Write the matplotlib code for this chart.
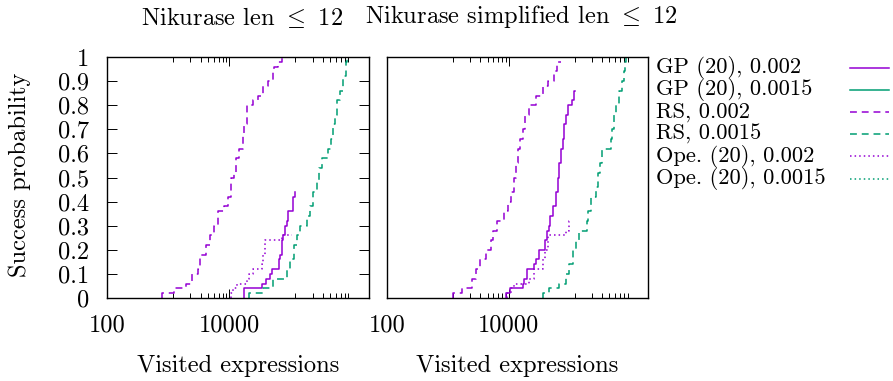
import numpy as np
import matplotlib
matplotlib.use("Agg")
import matplotlib.pyplot as plt
from matplotlib.lines import Line2D
from matplotlib.ticker import FixedLocator, NullFormatter

plt.rcParams['font.family'] = 'cmr10'
plt.rcParams['mathtext.fontset'] = 'cm'
plt.rcParams['font.size'] = 17.6

PURPLE = '#9400d3'
GREEN = '#009e73'

# visited expressions at which the success probability steps up
# -- Nikurase len <= 12
gp_002_a_x = [17600, 34700, 39300, 46300, 49300, 65000, 67500, 71800, 74600, 81500,
              86700, 92300, 108700, 111400, 118600]
gp_002_a_p = [0.04, 0.06, 0.08, 0.10, 0.12, 0.16, 0.18, 0.24, 0.26, 0.30,
              0.32, 0.36, 0.38, 0.42, 0.44]
gp_0015_a_x = []
gp_0015_a_p = []
rs_002_a_x = [800, 1250, 1960, 2430, 3040, 3320, 4160, 4830, 5690, 6620, 8200, 9640,
              10500, 12100, 12900, 14200, 16600, 17600, 19200, 24700, 29800, 36000,
              43500, 51200, 53800, 63400, 72800]
rs_002_a_p = [0.02, 0.04, 0.06, 0.10, 0.12, 0.18, 0.22, 0.26, 0.30, 0.36, 0.38, 0.42,
              0.50, 0.52, 0.58, 0.62, 0.68, 0.72, 0.80, 0.82, 0.84, 0.88,
              0.90, 0.94, 0.96, 0.98, 1.00]
rs_0015_a_x = [21000, 36000, 51200, 88900, 98400, 114400, 126400, 143300, 188900,
               208800, 236700, 275200, 296700, 323900, 416500, 460700, 502800, 535300,
               584600, 646200, 732000, 809600, 830000]
rs_0015_a_p = [0.02, 0.04, 0.08, 0.12, 0.16, 0.22, 0.26, 0.30, 0.34,
               0.38, 0.44, 0.48, 0.54, 0.58, 0.62, 0.66, 0.72, 0.76,
               0.82, 0.86, 0.92, 0.98, 1.00]
ope_002_a_x = [10700, 11600, 13500, 19200, 21200, 24700, 33900, 36000, 38400, 72000, 104700]
ope_002_a_p = [0.02, 0.04, 0.06, 0.08, 0.10, 0.12, 0.14, 0.18, 0.24, 0.26, 0.26]
ope_0015_a_x = []
ope_0015_a_p = []

# -- Nikurase simplified len <= 12
gp_002_b_x = [9060, 10300, 16900, 18100, 19700, 26300, 28100, 31000, 39800, 41800,
              45100, 47500, 52500, 59600, 63300, 67400, 71900, 76400, 81500, 86900,
              92300, 108800, 118600, 123300]
gp_002_b_p = [0.02, 0.04, 0.06, 0.08, 0.12, 0.14, 0.16, 0.20, 0.24, 0.28,
              0.30, 0.34, 0.38, 0.44, 0.50, 0.56, 0.62, 0.66, 0.72, 0.76,
              0.80, 0.82, 0.86, 0.86]
gp_0015_b_x = []
gp_0015_b_p = []
rs_002_b_x = [1210, 1730, 2480, 2930, 3320, 4160, 5020, 5480, 6370, 8280, 9630, 10700,
              12400, 13200, 14000, 15400, 17400, 18700, 21200, 28100, 36000, 43500,
              54500, 61000, 71900]
rs_002_b_p = [0.02, 0.04, 0.08, 0.12, 0.16, 0.20, 0.24, 0.28, 0.32, 0.36, 0.40, 0.44,
              0.50, 0.56, 0.62, 0.66, 0.70, 0.76, 0.80, 0.84, 0.88, 0.90,
              0.94, 0.98, 0.98]
rs_0015_b_x = [36900, 46300, 65700, 86900, 98400, 114400, 126500, 139600, 195900,
               203300, 222400, 274700, 293000, 316000, 344600, 473000, 491000, 535300,
               570000, 646000, 731000, 780000, 810000, 831000]
rs_0015_b_p = [0.02, 0.04, 0.06, 0.10, 0.14, 0.20, 0.24, 0.28, 0.32,
               0.36, 0.42, 0.46, 0.52, 0.56, 0.62, 0.66, 0.70, 0.76,
               0.80, 0.86, 0.90, 0.94, 0.98, 1.00]
ope_002_b_x = [9500, 11000, 12400, 21800, 26300, 36000, 39800, 43400, 86900, 98400, 100000]
ope_002_b_p = [0.02, 0.04, 0.06, 0.08, 0.12, 0.16, 0.20, 0.26, 0.28, 0.32, 0.32]
ope_0015_b_x = []
ope_0015_b_p = []

labels = ['GP (20), 0.002', 'GP (20), 0.0015', 'RS, 0.002', 'RS, 0.0015',
          'Ope. (20), 0.002', 'Ope. (20), 0.0015']
colors = [PURPLE, GREEN, PURPLE, GREEN, PURPLE, GREEN]
DASH = (0, (4.5, 3.2))
DOT = (0, (1.0, 2.0))
styles = ['-', '-', DASH, DASH, DOT, DOT]

panels = [
    ('Nikurase len $\\leq$ 12',
     [(gp_002_a_x, gp_002_a_p), (gp_0015_a_x, gp_0015_a_p), (rs_002_a_x, rs_002_a_p),
      (rs_0015_a_x, rs_0015_a_p), (ope_002_a_x, ope_002_a_p), (ope_0015_a_x, ope_0015_a_p)]),
    ('Nikurase simplified len $\\leq$ 12',
     [(gp_002_b_x, gp_002_b_p), (gp_0015_b_x, gp_0015_b_p), (rs_002_b_x, rs_002_b_p),
      (rs_0015_b_x, rs_0015_b_p), (ope_002_b_x, ope_002_b_p), (ope_0015_b_x, ope_0015_b_p)]),
]

minor_x = [100 + k * 1100 for k in range(1, 9)] + [10000 + k * 110000 for k in range(1, 9)]


def plot_steps(ax, xs, ps, color, ls):
    if len(xs) == 0:
        return
    xx = np.r_[xs[0], xs]
    yy = np.r_[0.0, ps]
    ax.plot(xx, yy, drawstyle='steps-post', color=color, linestyle=ls, linewidth=1.1)


W, H = 893, 381
fig = plt.figure(figsize=(W / 100, H / 100), dpi=100)
boxes = [(107, 57, 369, 298), (387, 57, 648, 298)]

for i, ((title, series), (x0, y0, x1, y1)) in enumerate(zip(panels, boxes)):
    ax = fig.add_axes([x0 / W, 1 - y1 / H, (x1 - x0) / W, (y1 - y0) / H])
    for (xs, ps), c, ls in zip(series, colors, styles):
        plot_steps(ax, xs, ps, c, ls)
    ax.set_xscale('log')
    ax.set_xlim(100, 1.93e6)
    ax.set_ylim(0, 1)
    ax.xaxis.set_major_locator(FixedLocator([100, 10000]))
    ax.set_xticklabels(['100', '10000'])
    ax.xaxis.set_minor_locator(FixedLocator(minor_x))
    ax.xaxis.set_minor_formatter(NullFormatter())
    ax.tick_params(axis='x', which='major', direction='in', top=True, bottom=True,
                   length=6.5, width=0.7, pad=12)
    ax.tick_params(axis='x', which='minor', direction='in', top=True, bottom=True,
                   length=3.6, width=0.7)
    if i == 0:
        yt = np.round(np.arange(0, 1.01, 0.1), 1)
        ax.set_yticks(yt)
        ax.set_yticklabels(['0' if v == 0 else ('1' if v == 1 else f'{v:.1f}') for v in yt])
        ax.tick_params(axis='y', direction='in', left=True, right=True,
                       length=7.2, width=0.7, pad=13)
    else:
        ax.set_yticks([])
    for s in ax.spines.values():
        s.set_linewidth(1.0)
    cx = (x0 + x1) / 2
    fig.text((cx + 4) / W, 1 - 17 / H, title, ha='center', va='center')
    fig.text(cx / W, 1 - 366 / H, 'Visited expressions', ha='center', va='center')

fig.text(20 / W, 1 - 175 / H, 'Success probability', rotation=90, ha='center', va='center')

# key to the right of the panels
rows = [67.5, 89.7, 111.9, 134.1, 156.3, 178.5]
for lab, c, ls, ry in zip(labels, colors, styles, rows):
    fig.text(656 / W, 1 - ry / H, lab, ha='left', va='center', fontsize=16.2)
    fig.add_artist(Line2D([850 / W, 889 / W], [1 - ry / H, 1 - ry / H],
                          color=c, linestyle=ls, linewidth=1.1))

fig.savefig('out.png', dpi=100)
